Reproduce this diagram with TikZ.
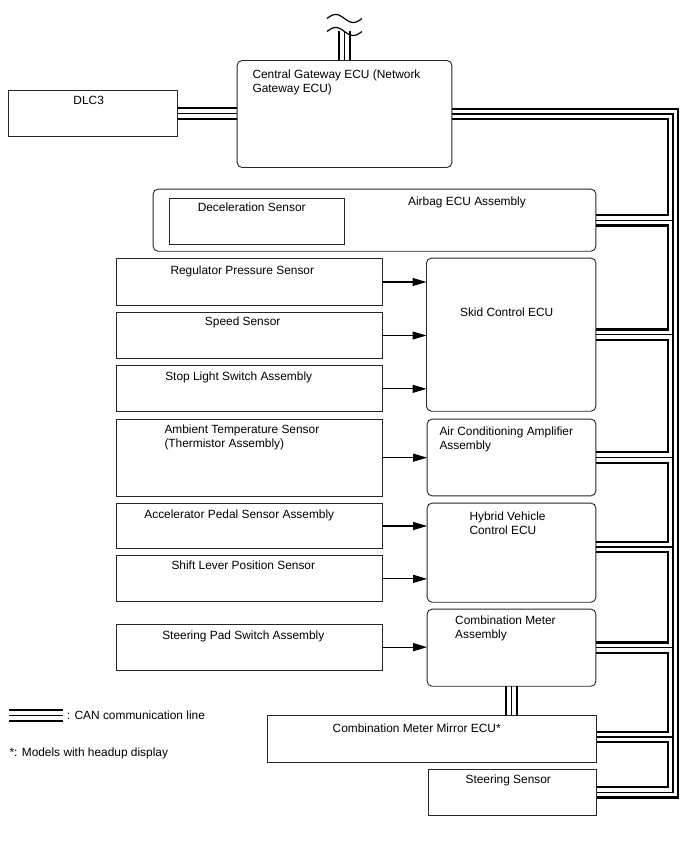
\documentclass[tikz,border=0pt]{standalone}
\usepackage{fontspec}
\setmainfont{Liberation Sans}
\usetikzlibrary{arrows.meta,fit}
\begin{document}
\begin{tikzpicture}[x=1pt,y=-1pt,
  sbox/.style={draw=black!85,line width=0.9pt,inner sep=0pt},
  rbox/.style={sbox,rounded corners=5pt},
  txt/.style={inner sep=0pt,font=\fontsize{11.9}{14}\selectfont,anchor=base},
  ltxt/.style={txt,anchor=base west},
  arr/.style={line width=1.1pt,-{Triangle[length=14pt,width=8pt]}},
  canA/.style={line width=12.8pt,black,line join=miter,line cap=butt},
  canB/.style={line width=8.2pt,white,line join=miter,line cap=butt},
  canC/.style={line width=1.2pt,black,line join=miter,line cap=butt},
  tilde/.style={line width=1.2pt,black}]
\useasboundingbox[fill=white] (0,0) rectangle (688,852);

% invisible box nodes first (for names)
\node[inner sep=0pt,fit={(9,91) (177,136)}] (dlc) {};
\node[inner sep=0pt,fit={(237.3,60.7) (451.7,167.3)}] (gw) {};
\node[inner sep=0pt,fit={(153.3,189.3) (595.7,251)}] (ab) {};
\node[inner sep=0pt,fit={(169.3,198.3) (344,244)}] (dec) {};
\node[inner sep=0pt,fit={(116.7,259) (382.3,305)}] (rps) {};
\node[inner sep=0pt,fit={(116.7,312.7) (382.3,358.3)}] (spd) {};
\node[inner sep=0pt,fit={(116.7,366) (382.3,411.7)}] (sls) {};
\node[inner sep=0pt,fit={(426.7,258.3) (595.7,411)}] (skid) {};
\node[inner sep=0pt,fit={(116.7,419.3) (382.3,496)}] (ats) {};
\node[inner sep=0pt,fit={(427.3,419.3) (595.7,495.7)}] (ac) {};
\node[inner sep=0pt,fit={(116.7,503.3) (382.3,548.7)}] (aps) {};
\node[inner sep=0pt,fit={(116.7,556) (382.3,601.7)}] (slp) {};
\node[inner sep=0pt,fit={(427.3,503.3) (595.7,602)}] (hv) {};
\node[inner sep=0pt,fit={(116.7,624.3) (382.3,670)}] (sps) {};
\node[inner sep=0pt,fit={(427.3,609.3) (595.7,686)}] (cm) {};
\node[inner sep=0pt,fit={(267.3,716) (596,762)}] (mir) {};
\node[inner sep=0pt,fit={(428.3,769.3) (596,815.3)}] (ss) {};

\coordinate (trTop) at (673,114);
\coordinate (trBot) at (trTop |- ss.east);
\coordinate (stubTop) at (344.5,31);
\coordinate (hvP) at (595.7,547);
\coordinate (mirP) at (596,737);
\coordinate (lgA) at (9.3,715.5);
\coordinate (lgB) at (62.7,715.5);

% CAN bus, three passes
\foreach \st in {canA,canB,canC}{
  \draw[\st] (dlc.east) -- (dlc.east -| gw.west)
             (gw.east -| gw.east) -- (trTop) -- (trBot) -- (ss.east)
             (ab.east) -- (ab.east -| trTop)
             (skid.east) -- (skid.east -| trTop)
             (ac.east) -- (ac.east -| trTop)
             (hvP) -- (hvP -| trTop)
             (cm.east) -- (cm.east -| trTop)
             (mirP) -- (mirP -| trTop)
             (gw.north) -- (stubTop)
             (cm.south) -- (mir.north -| cm.south)
             (lgA) -- (lgB);
}

% break marks
\draw[tilde] plot[domain=0:1,samples=40,smooth] ({327+35*\x},{18.5-4*sin(360*\x)});
\draw[tilde] plot[domain=0:1,samples=40,smooth] ({327+35*\x},{31.5-4*sin(360*\x)});

% boxes
\draw[sbox] (dlc.north west) rectangle (dlc.south east);
\draw[rbox] (gw.north west) rectangle (gw.south east);
\draw[rbox] (ab.north west) rectangle (ab.south east);
\draw[sbox] (dec.north west) rectangle (dec.south east);
\draw[sbox] (rps.north west) rectangle (rps.south east);
\draw[sbox] (spd.north west) rectangle (spd.south east);
\draw[sbox] (sls.north west) rectangle (sls.south east);
\draw[rbox] (skid.north west) rectangle (skid.south east);
\draw[sbox] (ats.north west) rectangle (ats.south east);
\draw[rbox] (ac.north west) rectangle (ac.south east);
\draw[sbox] (aps.north west) rectangle (aps.south east);
\draw[sbox] (slp.north west) rectangle (slp.south east);
\draw[rbox] (hv.north west) rectangle (hv.south east);
\draw[sbox] (sps.north west) rectangle (sps.south east);
\draw[rbox] (cm.north west) rectangle (cm.south east);
\draw[sbox] (mir.north west) rectangle (mir.south east);
\draw[sbox] (ss.north west) rectangle (ss.south east);

% texts
\node[txt] (dlcT) at (88.7,104.2) {DLC3};
\node[ltxt] (gwT1) at (252.3,78.5) {Central Gateway ECU (Network};
\node[ltxt] (gwT2) at (252.3,92.5) {Gateway ECU)};
\node[txt] (decT) at (251.7,211.9) {Deceleration Sensor};
\node[txt] (abT) at (467,205.2) {Airbag ECU Assembly};
\node[txt] (rpsT) at (242.3,274.2) {Regulator Pressure Sensor};
\node[txt] (skidT) at (506.7,316.9) {Skid Control ECU};
\node[txt] (spdT) at (242.7,325.9) {Speed Sensor};
\node[txt] (slsT) at (238.7,380.2) {Stop Light Switch Assembly};
\node[ltxt] (atsT1) at (164.3,433.2) {Ambient Temperature Sensor};
\node[ltxt] (atsT2) at (164.3,447.5) {(Thermistor Assembly)};
\node[ltxt] (acT1) at (439.3,435.2) {Air Conditioning Amplifier};
\node[ltxt] (acT2) at (439.3,449.2) {Assembly};
\node[txt] (apsT) at (239.3,518.2) {Accelerator Pedal Sensor Assembly};
\node[ltxt] (hvT1) at (469.3,520.2) {Hybrid Vehicle};
\node[ltxt] (hvT2) at (469.3,534.2) {Control ECU};
\node[txt] (slpT) at (243.3,569.9) {Shift Lever Position Sensor};
\node[txt] (spsT) at (243.3,639.2) {Steering Pad Switch Assembly};
\node[ltxt] (cmT1) at (455,624.2) {Combination Meter};
\node[ltxt] (cmT2) at (455,638.2) {Assembly};
\node[txt] (mirT) at (416.7,732.5) {Combination Meter Mirror ECU*};
\node[txt] (ssT) at (508.3,783.5) {Steering Sensor};
\node[ltxt] (lgT1) at (66.7,719.2) {: CAN communication line};
\node[ltxt] (lgT2) at (9.3,756) {*: Models with headup display};

% arrows
\draw[arr] (rps.east) -- (rps.east -| skid.west);
\draw[arr] (spd.east) -- (spd.east -| skid.west);
\draw[arr] (sls.east) -- (sls.east -| skid.west);
\draw[arr] (ats.east) -- (ats.east -| ac.west);
\draw[arr] (aps.east) -- (aps.east -| hv.west);
\draw[arr] (slp.east) -- (slp.east -| hv.west);
\draw[arr] (sps.east) -- (sps.east -| cm.west);
\end{tikzpicture}
\end{document}
